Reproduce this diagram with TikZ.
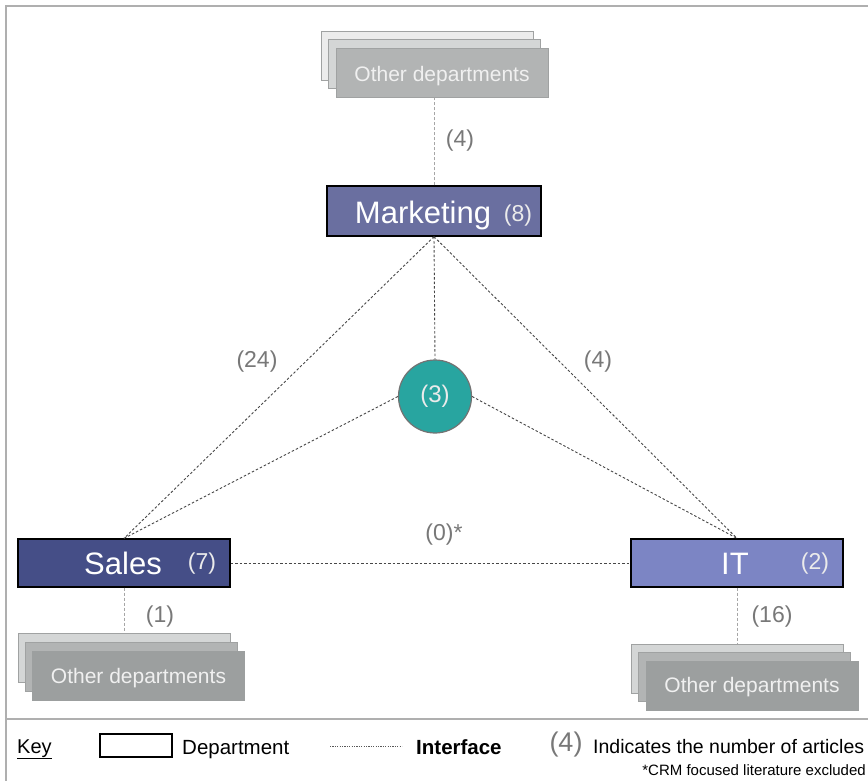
\documentclass[tikz,border=0pt]{standalone}
\usepackage{fontspec}
\setmainfont{Liberation Sans}
\definecolor{mkcol}{RGB}{106,111,160}
\definecolor{slcol}{RGB}{69,78,135}
\definecolor{itcol}{RGB}{124,133,196}
\definecolor{ctrcol}{RGB}{40,165,160}
\definecolor{numcol}{RGB}{120,120,120}
\definecolor{frmcol}{RGB}{175,175,175}
\definecolor{sa}{RGB}{236,236,236}
\definecolor{sb}{RGB}{212,214,214}
\definecolor{sc}{RGB}{178,180,180}
\definecolor{sd}{RGB}{156,159,159}
\definecolor{sbord}{RGB}{160,162,162}
\newcommand{\fs}[1]{\fontsize{#1}{#1}\selectfont}
\tikzset{
  dept/.style={rectangle, draw=black, line width=1.3pt, minimum width=213pt, minimum height=50pt, inner sep=0pt},
  obox/.style={rectangle, draw=sbord, line width=1pt, minimum width=212pt, minimum height=49pt, inner sep=0pt},
  wtxt/.style={text=white, inner sep=0pt, font=\fs{31}, anchor=base},
  wnum/.style={text=white!92!black, inner sep=0pt, font=\fs{23}, anchor=base},
  otxt/.style={text=white!94!black, inner sep=0pt, font=\fs{21}, anchor=base},
  num/.style={text=numcol, inner sep=0pt, font=\fs{23}},
  iface/.style={draw=black!72, line width=0.9pt, dash pattern=on 2.5pt off 2pt},
  ext/.style={draw=black!35, line width=1pt, dash pattern=on 3pt off 2pt},
  keytxt/.style={inner sep=0pt, font=\fs{20}, anchor=base west},
}
\begin{document}
\begin{tikzpicture}[x=1pt,y=-1pt]
\useasboundingbox (0,0) rectangle (868,781);
\clip (0,0) rectangle (868,781);
\fill[white] (0,0) rectangle (868,781);
% frame
\draw[frmcol, line width=1.5pt] (6,781) -- (6,6) -- (868,6);
\draw[frmcol, line width=1.5pt] (6,719) -- (868,719);

% top stack
\node[obox, fill=sa] (ta) at (427,56) {};
\node[obox, fill=sb] (tb) at (434.5,64.5) {};
\node[obox, fill=sc] (tc) at (442,73.5) {};
\node[otxt] (tct) at (442,81.5) {Other departments};

% bottom-left stack
\node[obox, fill=sb] (la) at (124,657.5) {};
\node[obox, fill=sc] (lb) at (131,666.5) {};
\node[obox, fill=sd, draw=sd] (lc) at (138.5,675.5) {};
\node[otxt] (lct) at (138.5,683) {Other departments};

% bottom-right stack
\node[obox, fill=sb] (ra) at (737,668.5) {};
\node[obox, fill=sc] (rb) at (744.5,677) {};
\node[obox, fill=sd, draw=sd] (rc) at (752,685.5) {};
\node[otxt] (rct) at (752,692.5) {Other departments};

% departments
\node[dept, fill=mkcol, minimum width=214pt] (mk) at (434,211) {};
\node[wtxt] (mkt) at (423,223.5) {Marketing};
\node[wnum] (mkn) at (518,222) {(8)};

\node[dept, fill=slcol, minimum width=212pt, minimum height=48pt] (sl) at (124,563) {};
\node[wtxt] (slt) at (123,574) {Sales};
\node[wnum] (sln) at (202,569) {(7)};

\node[dept, fill=itcol, minimum width=212pt, minimum height=48pt] (it) at (737,563) {};
\node[wtxt] (itt) at (735,574) {IT};
\node[wnum] (itn) at (815,569) {(2)};

% centre circle
\node[circle, draw=black!55, line width=1.2pt, fill=ctrcol, minimum size=73pt, inner sep=0pt] (ctr) at (435,396.5) {};
\node[wnum, font=\fs{24}, anchor=center] (ctrt) at (435,396) {(3)};

% interfaces
\draw[iface] (mk.south) -- (sl.north);
\draw[iface] (mk.south) -- (it.north);
\draw[iface] (mk.south) -- (ctr.north);
\draw[iface] (ctr.west) -- (sl.north);
\draw[iface] (ctr.east) -- (it.north);
\draw[iface] (sl.east) -- (it.west);

\draw[ext] (mk.north) -- (mk.north |- tc.south);
\draw[ext] (sl.south) -- (la.north);
\draw[ext] (it.south) -- (ra.north);

% labels
\node[num] (n1) at (460,141) {(4)};
\node[num] (n2) at (257,362) {(24)};
\node[num] (n3) at (598,362) {(4)};
\node[num] (n4) at (444,535) {(0)*};
\node[num] (n5) at (160,617) {(1)};
\node[num] (n6) at (772,617) {(16)};

% key
\node[keytxt] (key) at (17,753) {\underline{Key}};
\node[rectangle, draw=black, line width=1.2pt, minimum width=72pt, minimum height=23pt, inner sep=0pt] (kbox) at (136,745.5) {};
\node[keytxt, font=\fs{20.5}] (kdept) at (182,754) {Department};
\coordinate (kl1) at (330,746);
\coordinate (kl2) at (402,746);
\draw[draw=black!65, line width=0.7pt, dash pattern=on 1.2pt off 1.2pt] (kl1) -- (kl2);
\node[keytxt, font=\fs{20.5}\bfseries] (kif) at (416,754) {Interface};
\node[num, font=\fs{27}] (k4) at (566,745) {(4)};
\node[keytxt, font=\fs{19.5}] (kind) at (593,753) {Indicates the number of articles};
\node[inner sep=0pt, font=\fs{15}, anchor=base east] (kcrm) at (866,775) {*CRM focused literature excluded};
\end{tikzpicture}
\end{document}
